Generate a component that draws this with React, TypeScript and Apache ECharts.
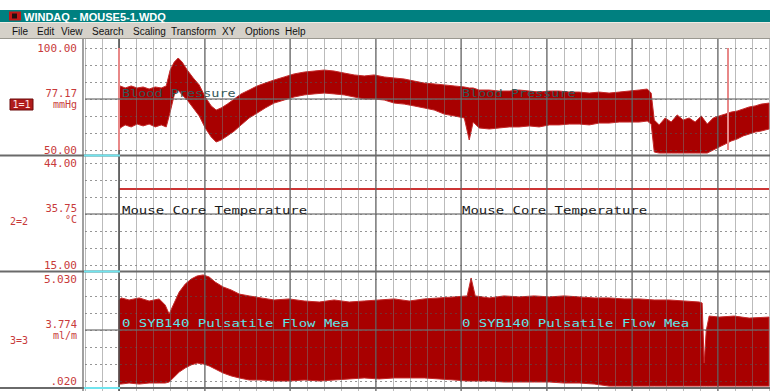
import React, { useEffect, useRef } from "react";
import * as echarts from "echarts";

// ---------- window chrome texts ----------
const windowTitle = "WINDAQ - MOUSE5-1.WDQ";
const menuItems = ["File", "Edit", "View", "Search", "Scaling", "Transform", "XY", "Options", "Help"];
const menuX = [12, 37, 61, 92, 133, 171, 222, 245, 285];

// ---------- channel descriptions ----------
const channelTags = ["1=1", "2=2", "3=3"];
const channelUnits = ["mmHg", "°C", "ml/m"];
const channelTopLabels = ["100.00", "44.00", "5.030"];
const channelMidLabels = ["77.17", "35.75", "3.774"];
const channelBottomLabels = ["50.00", "15.00", ".020"];
const channelMin = [50, 15, 0.02];
const channelMax = [100, 44, 5.03];
const channelNames = ["Blood Pressure", "Mouse Core Temperature", "0 SYB140 Pulsatile Flow Mea"];

// time axis in screen divisions
const timeMin = -2;
const timeMax = 38;
const majorTimes = [5, 10, 15, 20, 25, 30, 35];
const cursorTimes = [0, 35.58];

// ---------- channel 1: blood pressure envelope (mmHg) ----------
const bpTime = [
  0, 0.06, 0.35, 0.7, 1.05, 1.4, 1.75, 2.11, 2.46, 2.75,
  2.98, 3.22, 3.45, 3.68, 3.98, 4.33, 4.68, 5.03, 5.38, 5.67,
  5.96, 6.32, 6.73, 7.13, 7.6, 8.07, 8.54, 9.06, 9.65, 10.23,
  10.82, 11.4, 11.99, 12.57, 13.16, 13.74, 14.33, 14.91, 15.5, 16.08,
  16.67, 17.25, 17.84, 18.42, 19.01, 19.59, 20.18, 20.47, 20.7, 21.05,
  21.64, 22.22, 22.81, 23.39, 23.98, 24.56, 25.15, 25.73, 26.32, 26.9,
  27.49, 28.07, 28.65, 29.24, 29.82, 30.41, 30.88, 31.11, 31.29, 31.58,
  31.93, 32.28, 32.63, 32.98, 33.33, 33.68, 34.04, 34.39, 34.74, 35.09,
  35.44, 35.79, 36.14, 36.49, 36.84, 37.19, 37.54, 38,
];
const bpHigh = [
  78.4, 81.4, 80.4, 81.4, 80.4, 80.9, 79.9, 80.9, 80.4, 81.4,
  89.2, 93.1, 95.1, 93.1, 89.2, 85.3, 81.9, 76.0, 71.6, 69.6,
  70.6, 72.5, 75.0, 77.5, 79.4, 81.4, 82.8, 84.3, 85.8, 87.3,
  88.2, 88.7, 89.2, 88.7, 87.7, 86.8, 86.3, 86.8, 85.8, 85.3,
  84.8, 83.8, 82.8, 82.4, 81.9, 81.4, 80.9, 80.4, 80.4, 79.4,
  79.4, 78.9, 78.9, 79.4, 78.9, 78.4, 78.9, 78.9, 78.4, 78.4,
  77.9, 78.4, 77.9, 78.4, 78.9, 79.4, 79.9, 77.9, 64.7, 62.3,
  65.7, 63.7, 67.2, 64.7, 65.7, 63.7, 66.7, 62.7, 65.7, 66.7,
  67.6, 68.6, 69.1, 70.1, 71.1, 71.6, 72.5, 73.0,
];
const bpLow = [
  59.8, 60.8, 62.3, 61.3, 62.7, 61.8, 62.7, 61.3, 62.3, 61.3,
  68.6, 77.0, 79.4, 77.0, 74.5, 70.6, 66.7, 60.8, 56.4, 53.9,
  54.9, 56.9, 59.3, 62.3, 65.7, 68.1, 70.6, 73.0, 74.5, 76.0,
  77.0, 77.5, 77.9, 77.5, 77.0, 76.0, 75.0, 75.0, 74.5, 73.0,
  72.5, 71.6, 70.6, 69.6, 67.6, 66.7, 65.7, 54.9, 63.7, 60.8,
  60.3, 60.8, 61.3, 61.3, 61.8, 61.3, 62.3, 62.3, 62.7, 62.7,
  62.3, 63.2, 63.2, 63.7, 63.7, 63.7, 64.2, 62.7, 49.0, 48.5,
  48.5, 48.5, 48.5, 48.5, 48.5, 48.5, 48.5, 48.5, 50.0, 51.5,
  52.9, 54.4, 55.4, 56.9, 57.8, 58.8, 59.3, 60.3,
];

// ---------- channel 2: core temperature (°C) ----------
const tempTime = [0, 38];
const tempValue = [36.6, 36.6];

// ---------- channel 3: pulsatile flow envelope (ml/m) ----------
const flowTime = [
  0, 0.12, 0.58, 1.17, 1.75, 2.34, 2.69, 2.92, 3.16, 3.51,
  3.86, 4.21, 4.56, 4.91, 5.26, 5.61, 6.08, 6.55, 7.02, 7.6,
  8.3, 9.06, 9.94, 10.82, 11.7, 12.57, 13.45, 14.33, 15.2, 16.08,
  16.96, 17.84, 18.71, 19.59, 20.35, 20.58, 20.82, 21.64, 22.51, 23.39,
  24.27, 25.15, 26.02, 26.9, 27.78, 28.65, 29.53, 30.41, 31.29, 32.16,
  33.04, 33.92, 34.09, 34.21, 34.33, 34.5, 35.09, 35.96, 36.84, 38,
];
const flowHigh = [
  4.0, 4.1, 4.0, 4.1, 3.95, 4.05, 3.75, 3.31, 3.75, 4.39,
  4.78, 5.03, 5.18, 5.23, 5.13, 4.88, 4.64, 4.49, 4.29, 4.2,
  4.1, 4.0, 4.05, 3.95, 3.9, 4.0, 3.9, 3.95, 4.0, 4.05,
  3.95, 4.05, 4.1, 4.15, 4.2, 5.08, 4.2, 4.1, 4.2, 4.15,
  4.2, 4.15, 4.2, 4.15, 4.1, 4.1, 4.05, 4.05, 4.0, 4.0,
  3.95, 3.9, 3.85, 0.9, 2.5, 3.21, 3.16, 3.21, 3.11, 3.16,
];
const flowLow = [
  -0.13, -0.13, -0.08, -0.13, -0.08, -0.08, -0.08, -0.03, 0.17, 0.46,
  0.66, 0.81, 0.9, 0.86, 0.76, 0.61, 0.41, 0.27, 0.17, 0.07,
  0.07, 0.02, 0.02, 0.07, 0.02, 0.07, 0.12, 0.17, 0.12, 0.17,
  0.17, 0.17, 0.12, 0.07, 0.02, 0.02, 0.02, 0.02, -0.03, -0.03,
  -0.03, -0.03, -0.08, -0.08, -0.13, -0.23, -0.23, -0.23, -0.23, -0.23,
  -0.23, -0.23, -0.23, -0.23, -0.23, -0.23, -0.23, -0.23, -0.23, -0.23,
];

// ---------- layout ----------
const GRID_LEFT = 85;
const GRID_WIDTH = 684;
const CH_TOP = [48, 163, 279];
const CH_H = 102;
const SEPARATORS = [155.5, 271.5, 388];
const BAND_COLOR = "#a80000";
const BAND_EDGE = "#c42a2a";
const LABEL_RED = "#c83a3a";
const MONO = "'DejaVu Sans Mono', 'Liberation Mono', monospace";
const SANS = "'Liberation Sans', Arial, sans-serif";

function txt(text: string, x: number, y: number, o: any = {}) {
  return {
    type: "text",
    x,
    y,
    z: 30,
    silent: true,
    scaleX: o.sx ?? 1,
    scaleY: o.sy ?? 1,
    style: {
      text,
      x: 0,
      y: 0,
      fill: o.fill ?? "#000",
      fontSize: o.size ?? 11,
      fontFamily: o.family ?? MONO,
      fontWeight: o.weight ?? "normal",
      textAlign: o.align ?? "left",
      textVerticalAlign: "middle",
    },
  };
}
function hline(x1: number, x2: number, y: number, stroke: string, w: number) {
  return { type: "line", z: 25, silent: true, shape: { x1, y1: y, x2, y2: y }, style: { stroke, lineWidth: w } };
}

// min/max envelope of a dense pulsatile trace drawn as one filled polygon
function bandSeries(name: string, idx: number, time: number[], low: number[], high: number[]) {
  return {
    type: "custom",
    name,
    xAxisIndex: idx,
    yAxisIndex: idx,
    clip: false,
    z: 2,
    silent: true,
    data: time.map((t, i) => [t, low[i], high[i]]),
    encode: { x: 0, y: [1, 2] },
    renderItem: (params: any, api: any) => {
      if (params.dataIndex !== 0) return null;
      const upper = time.map((t, i) => api.coord([t, high[i]]));
      const lower = time.map((t, i) => api.coord([t, low[i]])).reverse();
      return {
        type: "polygon",
        shape: { points: upper.concat(lower) },
        style: { fill: BAND_COLOR, stroke: BAND_EDGE, lineWidth: 1 },
      };
    },
  };
}

export default function App() {
  const ref = useRef<HTMLDivElement>(null);

  useEffect(() => {
    document.body.style.margin = "0";
    if (!ref.current) return;
    const chart = echarts.init(ref.current, undefined, { renderer: "svg" });

    const grids: any[] = [{ left: GRID_LEFT, top: 39, width: GRID_WIDTH, height: 352 }];
    CH_TOP.forEach((t) => grids.push({ left: GRID_LEFT, top: t, width: GRID_WIDTH, height: CH_H }));

    const xAxes: any[] = [
      {
        gridIndex: 0,
        type: "value",
        min: timeMin,
        max: timeMax,
        interval: 1,
        axisLine: { show: false },
        axisTick: { show: false },
        axisLabel: { show: false },
        splitLine: { show: true, lineStyle: { color: "rgba(120,120,120,0.5)", width: 1 } },
        z: 3,
      },
    ];
    CH_TOP.forEach((_, k) => xAxes.push({ gridIndex: k + 1, type: "value", min: timeMin, max: timeMax, show: false }));

    const yAxes: any[] = [{ gridIndex: 0, type: "value", min: 0, max: 1, show: false }];
    CH_TOP.forEach((_, k) =>
      yAxes.push({ gridIndex: k + 1, type: "value", min: channelMin[k], max: channelMax[k], show: false, position: "left" })
    );
    CH_TOP.forEach((_, k) =>
      yAxes.push({
        gridIndex: k + 1,
        type: "value",
        min: 0,
        max: 6,
        interval: 1,
        position: "right",
        axisLine: { show: false },
        axisTick: { show: false },
        axisLabel: { show: false },
        splitLine: { show: true, lineStyle: { color: "rgba(80,80,80,0.6)", type: [2, 3], width: 1 } },
        z: 3,
      })
    );

    const noLabel = { show: false };
    const series: any[] = [
      // dark cursor line below the data
      {
        type: "line",
        xAxisIndex: 0,
        yAxisIndex: 0,
        data: [[timeMin, 0]],
        symbol: "none",
        lineStyle: { width: 0 },
        z: 0,
        markLine: {
          silent: true,
          symbol: ["none", "none"],
          label: noLabel,
          lineStyle: { color: "#444", width: 1.5, type: "solid" },
          data: [{ xAxis: cursorTimes[0] }],
        },
      },
      // pink cursors in channel 1, below the trace
      {
        type: "line",
        xAxisIndex: 1,
        yAxisIndex: 1,
        data: [[timeMin, channelMin[0]]],
        symbol: "none",
        lineStyle: { width: 0 },
        z: 1,
        markLine: {
          silent: true,
          symbol: ["none", "none"],
          label: noLabel,
          lineStyle: { color: "#e88888", width: 2, type: "solid" },
          data: cursorTimes.map((t) => ({ xAxis: t })),
        },
      },
      // major vertical divisions on top of the data
      {
        type: "line",
        xAxisIndex: 0,
        yAxisIndex: 0,
        data: [[timeMin, 0]],
        symbol: "none",
        lineStyle: { width: 0 },
        z: 4,
        markLine: {
          silent: true,
          symbol: ["none", "none"],
          label: noLabel,
          lineStyle: { color: "rgba(90,90,90,0.7)", width: 1.5, type: "solid" },
          data: majorTimes.map((t) => ({ xAxis: t })),
        },
      },
      bandSeries(channelNames[0], 1, bpTime, bpLow, bpHigh),
      {
        type: "line",
        name: channelNames[1],
        xAxisIndex: 2,
        yAxisIndex: 2,
        data: tempTime.map((t, i) => [t, tempValue[i]]),
        symbol: "none",
        lineStyle: { color: "#cc3434", width: 2 },
        z: 2,
      },
      bandSeries(channelNames[2], 3, flowTime, flowLow, flowHigh),
    ];
    // solid middle line of each channel
    CH_TOP.forEach((_, k) =>
      series.push({
        type: "line",
        xAxisIndex: k + 1,
        yAxisIndex: k + 4,
        data: [[timeMin, 3]],
        symbol: "none",
        lineStyle: { width: 0 },
        z: 4,
        markLine: {
          silent: true,
          symbol: ["none", "none"],
          label: noLabel,
          lineStyle: { color: "rgba(110,110,110,0.8)", width: 1.5, type: "solid" },
          data: [{ yAxis: 3 }],
        },
      })
    );

    const graphic: any[] = [
      // title bar
      { type: "rect", z: 20, silent: true, shape: { x: 0, y: 10, width: 770, height: 12 }, style: { fill: "#008080" } },
      { type: "rect", z: 21, silent: true, shape: { x: 9, y: 11.5, width: 12, height: 9 }, style: { fill: "#c01818" } },
      { type: "rect", z: 22, silent: true, shape: { x: 12, y: 13.5, width: 5, height: 5 }, style: { fill: "#201010" } },
      txt(windowTitle, 24, 16.5, { fill: "#ffffff", size: 11, family: SANS, weight: "bold" }),
      // menu bar
      { type: "rect", z: 20, silent: true, shape: { x: 0, y: 22, width: 770, height: 16.5 }, style: { fill: "#d5d1c9" } },
      hline(0, 770, 22.5, "#efece4", 1),
      hline(0, 770, 38.5, "#9a9890", 1),
      ...menuItems.map((m, i) => txt(m, menuX[i], 31, { size: 10, family: SANS, fill: "#111" })),
      // left panel border
      { type: "line", z: 25, silent: true, shape: { x1: 83, y1: 39, x2: 83, y2: 391 }, style: { stroke: "#808080", lineWidth: 1.5 } },
    ];
    // separators with the cyan section before the cursor
    SEPARATORS.forEach((y) => {
      graphic.push(hline(0, 770, y, "#6a6a6a", 2));
      graphic.push(hline(84, 120, y, "#70e4ee", 2));
    });
    // channel scale labels
    CH_TOP.forEach((top, k) => {
      const mid = top + CH_H / 2;
      graphic.push(txt(channelTopLabels[k], 77, top, { fill: LABEL_RED, align: "right" }));
      graphic.push(txt(channelMidLabels[k], 77, mid - 6, { fill: LABEL_RED, align: "right", size: 10.5 }));
      graphic.push(txt(channelUnits[k], 77, mid + 5, { fill: LABEL_RED, align: "right", size: 10 }));
      graphic.push(txt(channelBottomLabels[k], 77, top + CH_H, { fill: LABEL_RED, align: "right" }));
      if (k === 0) {
        graphic.push({
          type: "rect",
          z: 28,
          silent: true,
          shape: { x: 10, y: mid, width: 23, height: 11 },
          style: { fill: "#b01c1c", stroke: "#6a0a0a", lineWidth: 1 },
        });
        graphic.push(txt(channelTags[k], 21.5, mid + 5.5, { fill: "#ffe4e4", align: "center", size: 10 }));
      } else {
        graphic.push(txt(channelTags[k], 28, mid + 7 + (k === 2 ? 3 : 0), { fill: LABEL_RED, align: "right", size: 10 }));
      }
    });
    // channel annotations printed on the trace
    const annotX = [122, 462];
    annotX.forEach((x) => {
      graphic.push(txt(channelNames[0], x, 93, { fill: "#355858", size: 13.5, sy: 0.8 }));
      graphic.push(txt(channelNames[1], x, 210, { fill: "#1a1a1a", size: 14, sy: 0.8 }));
      graphic.push(txt(channelNames[2], x, 323, { fill: "#5ce4e8", size: 14, sy: 0.8 }));
    });

    chart.setOption({
      animation: false,
      backgroundColor: "#ffffff",
      grid: grids,
      xAxis: xAxes,
      yAxis: yAxes,
      series,
      graphic,
    });

    return () => chart.dispose();
  }, []);

  return <div ref={ref} style={{ width: 770, height: 391 }} />;
}
